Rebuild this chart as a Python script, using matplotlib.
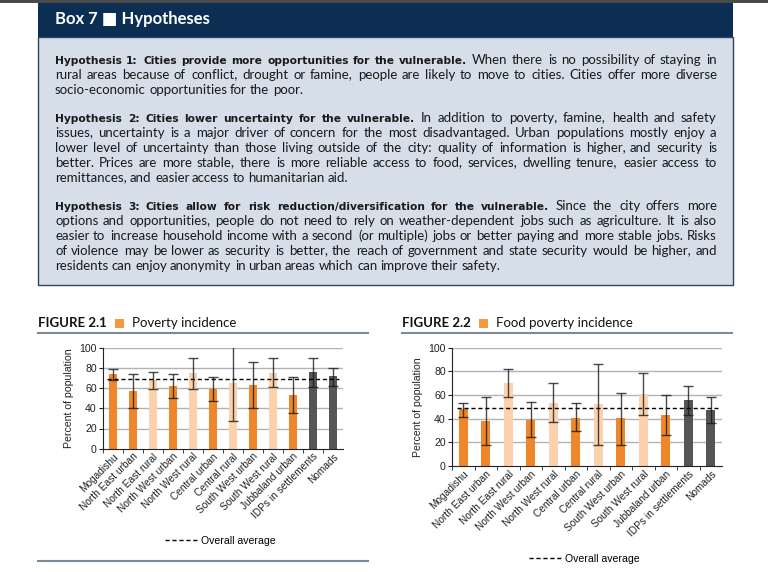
import math
import matplotlib
matplotlib.use("Agg")
import matplotlib.pyplot as plt
from matplotlib.patches import Rectangle
from matplotlib.lines import Line2D

W, H = 768, 572

categories = ["Mogadishu", "North East urban", "North East rural", "North West urban",
              "North West rural", "Central urban", "Central rural", "South West urban",
              "South West rural", "Jubbaland urban", "IDPs in settlements", "Nomads"]
kinds = ["o", "o", "l", "o", "l", "o", "l", "o", "l", "o", "d", "d"]

poverty = [74, 57, 68.5, 62, 75, 59.5, 65, 63.5, 75, 53, 76, 72]
poverty_lo = [68.5, 40.5, 59.5, 50, 59.5, 47, 27.5, 40.5, 61.5, 35.5, 61.5, 62.5]
poverty_hi = [78.5, 73.5, 76, 73.5, 89.5, 71, 102.5, 85.5, 89.5, 71, 89.5, 80]
poverty_avg = 69.3

food = [48, 38, 70, 39, 53, 40.5, 52.5, 40.5, 61, 43, 56, 47.5]
food_lo = [41.5, 17.5, 58, 24.5, 37, 29.5, 17.5, 17.5, 43.5, 26.5, 43.5, 36.5]
food_hi = [53, 58.5, 82, 54, 70, 53, 86.5, 62, 79, 60, 67.5, 58.5]
food_avg = 48.7

colors = {"o": "#f0862a", "l": "#fbd2ab", "d": "#555555"}

hypotheses = [
    ("Hypothesis 1: Cities provide more opportunities for the vulnerable.",
     ["When there is no possibility of staying in",
      "rural areas because of conflict, drought or famine, people are likely to move to cities. Cities offer more diverse",
      "socio-economic opportunities for the poor."]),
    ("Hypothesis 2: Cities lower uncertainty for the vulnerable.",
     ["In addition to poverty, famine, health and safety",
      "issues, uncertainty is a major driver of concern for the most disadvantaged. Urban populations mostly enjoy a",
      "lower level of uncertainty than those living outside of the city: quality of information is higher, and security is",
      "better. Prices are more stable, there is more reliable access to food, services, dwelling tenure, easier access to",
      "remittances, and easier access to humanitarian aid."]),
    ("Hypothesis 3: Cities allow for risk reduction/diversification for the vulnerable.",
     ["Since the city offers more",
      "options and opportunities, people do not need to rely on weather-dependent jobs such as agriculture. It is also",
      "easier to increase household income with a second (or multiple) jobs or better paying and more stable jobs. Risks",
      "of violence may be lower as security is better, the reach of government and state security would be higher, and",
      "residents can enjoy anonymity in urban areas which can improve their safety."]),
]
par_tops = [60, 118, 206]

fig = plt.figure(figsize=(W / 100, H / 100), dpi=100)
renderer = fig.canvas.get_renderer()


def fx(x):
    return x / W


def fy(y):
    return 1 - y / H


def rect(x0, y0, x1, y1, **kw):
    fig.patches.append(Rectangle((fx(x0), fy(y1)), (x1 - x0) / W, (y1 - y0) / H,
                                 transform=fig.transFigure, **kw))


def snap_y(t, row):
    # Agg rounds each word's bitmap on its own; shift so every word's baseline
    # lands on the same pixel row
    try:
        _, h, d = renderer.get_text_width_height_descent(
            t.get_text(), t.get_fontproperties(), ismath=False)
        return row - math.floor(h - d) + math.floor(h) - d
    except Exception:
        return row


# box
rect(0, 0, W, 3, facecolor="#4a4a4a", edgecolor="none")
rect(38, 37, 733, 285, facecolor="#d5dee9", edgecolor="#2b4763", linewidth=1)
rect(38, 3, 733, 37, facecolor="#0b2e52", edgecolor="none")
fig.text(fx(55), fy(19), "Box 7 \u25a0 Hypotheses", color="white", fontsize=12,
         fontweight="bold", family=["Lato", "DejaVu Sans"], va="center")

# justified paragraphs, placed word by word
left, right, lh = 55, 717, 15.2
reg = dict(family="Lato", fontsize=9.5, color="#1a1a1a")
bld = dict(family="DejaVu Sans", fontsize=7.7, fontweight="bold", color="#1a1a1a")
for (bold, lines), top in zip(hypotheses, par_tops):
    for i, line in enumerate(lines):
        words = [(w, reg) for w in line.split()]
        if i == 0:
            words = [(w, bld) for w in bold.split()] + words
        texts = [fig.text(0, 0, w, va="baseline", **st) for w, st in words]
        widths = [t.get_window_extent(renderer).width for t in texts]
        if i < len(lines) - 1:
            gap = (right - left - sum(widths)) / (len(words) - 1)
        else:
            gap = 3.2
        x = left
        row = round(top + i * lh + 3.5)
        for t, wd in zip(texts, widths):
            t.set_position((fx(round(x)), fy(snap_y(t, row))))
            x += wd + gap

# figure headings
for x0, x1, num, name in [(38, 368, "FIGURE 2.1", "Poverty incidence"),
                          (402, 732, "FIGURE 2.2", "Food poverty incidence")]:
    t = fig.text(fx(x0), fy(323), num, fontsize=9.5, fontweight="bold", family="Lato",
                 va="center", color="#111111")
    wd = t.get_window_extent(renderer).width
    rect(x0 + wd + 8, 319, x0 + wd + 17, 328, facecolor="#f39a3c", edgecolor="none")
    fig.text(fx(x0 + wd + 25), fy(323), name, fontsize=9.5, family="Lato",
             va="center", color="#111111")
    fig.lines.append(Line2D([fx(x0), fx(x1)], [fy(333), fy(333)], color="#7d8b99",
                            linewidth=1.5, transform=fig.transFigure))
fig.lines.append(Line2D([fx(38), fx(368)], [fy(561), fy(561)], color="#7d8b99",
                        linewidth=1.5, transform=fig.transFigure))


def bar_chart(rect_px, vals, lo, hi, avg, fs, legend_y, cap):
    x0, y0, x1, y1 = rect_px
    ax = fig.add_axes([fx(x0), fy(y1), (x1 - x0) / W, (y1 - y0) / H])
    xs = list(range(len(categories)))
    ax.set_xlim(-0.5, len(categories) - 0.5)
    ax.set_ylim(0, 100)
    for v in range(20, 101, 20):
        ax.axhline(v, color="#b3b3b3", linewidth=1, zorder=0)
    ax.bar(xs, vals, width=0.38, color=[colors[k] for k in kinds], zorder=2)
    err = [[v - l for v, l in zip(vals, lo)], [h - v for v, h in zip(vals, hi)]]
    ax.errorbar(xs, vals, yerr=err, fmt="none", ecolor="#1a1a1a", alpha=0.8,
                elinewidth=1, capsize=cap, capthick=1, zorder=4)
    avg_line, = ax.plot([-0.3, len(categories) - 0.7], [avg, avg], color="black",
                        linestyle=(0, (3, 2)), linewidth=1, zorder=3)
    for s in ["top", "right"]:
        ax.spines[s].set_visible(False)
    ax.spines["left"].set_color("#222222")
    ax.spines["bottom"].set_color("#222222")
    ax.set_yticks(range(0, 101, 20))
    ax.set_xticks(xs)
    ax.set_xticks([x + 0.5 for x in xs[:-1]] + [-0.5], minor=True)
    ax.tick_params(axis="x", which="major", length=0, pad=2)
    ax.tick_params(axis="x", which="minor", length=3, color="#222222")
    ax.tick_params(axis="y", length=3, color="#222222", pad=1.5)
    ax.set_xticklabels(categories, rotation=45, ha="right", rotation_mode="anchor",
                       fontsize=fs, family="Liberation Sans", color="#222222")
    for lab in ax.get_yticklabels():
        lab.set_fontsize(fs + 0.3)
        lab.set_family("Liberation Sans")
        lab.set_color("#222222")
    ax.set_ylabel("Percent of population", fontsize=fs + 0.3, family="Liberation Sans",
                  color="#222222", labelpad=4)
    ax.legend([avg_line], ["Overall average"], loc="center", bbox_to_anchor=legend_y,
              frameon=False, handlelength=3, handletextpad=0.4,
              prop={"family": "Liberation Sans", "size": fs + 0.3})
    return ax


bar_chart((103, 347.7, 343, 448.7), poverty, poverty_lo, poverty_hi, poverty_avg,
          7.3, (0.49, -0.915), 3.5)
bar_chart((452, 347.7, 722, 466), food, food_lo, food_hi, food_avg,
          7.3, (0.49, -0.786), 3.8)

fig.savefig("out.png", dpi=100)
